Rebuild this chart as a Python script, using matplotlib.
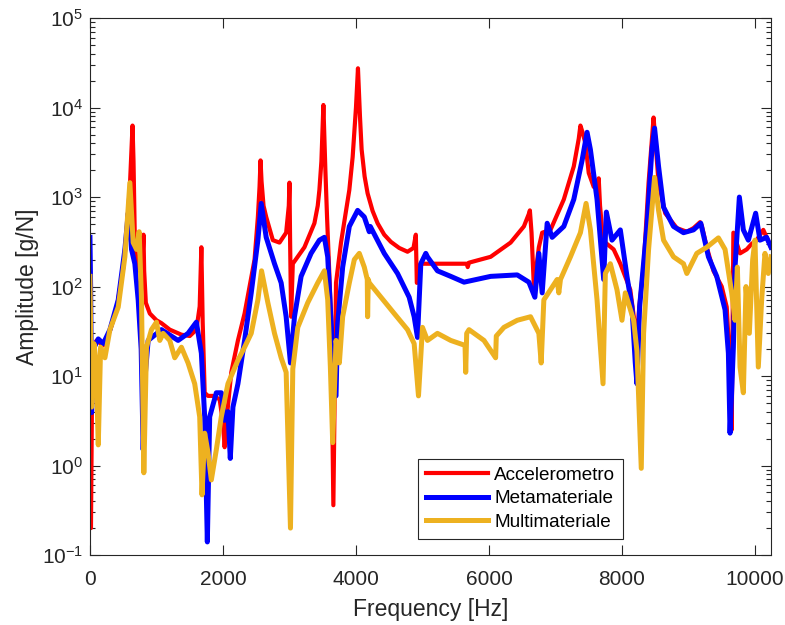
import numpy as np
import matplotlib
matplotlib.use('Agg')
import matplotlib.pyplot as plt
from matplotlib.ticker import FixedLocator, LogLocator, NullFormatter

# frequency response functions (Hz, g/N)
freq_acc = [0, 15, 30, 60, 100, 200, 300, 400, 500, 560, 600, 625, 640, 655, 675, 700, 750, 790,
            805, 815, 840, 900, 1000, 1075, 1200, 1375, 1500, 1600, 1650, 1675, 1695, 1725, 1775,
            1850, 1950, 2000, 2025, 2050, 2125, 2225, 2325, 2475, 2525, 2550, 2565, 2580, 2610,
            2650, 2750, 2850, 2950, 2990, 3000, 3010, 3025, 3050, 3225, 3375, 3425, 3450, 3480,
            3510, 3540, 3565, 3625, 3660, 3700, 3775, 3850, 3900, 3950, 3975, 4000, 4030, 4060,
            4085, 4130, 4175, 4250, 4325, 4425, 4525, 4650, 4775, 4865, 4900, 4915, 4975, 5100,
            5400, 5670, 5680, 5700, 6025, 6325, 6525, 6600, 6615, 6640, 6675, 6750, 6800, 6925,
            7125, 7275, 7350, 7375, 7400, 7450, 7500, 7575, 7640, 7650, 7670, 7700, 7750, 7875,
            7975, 8125, 8225, 8260, 8325, 8400, 8450, 8475, 8500, 8550, 8650, 8825, 8975, 9075,
            9175, 9200, 9275, 9375, 9500, 9575, 9625, 9650, 9675, 9775, 9875, 9950, 10025, 10125,
            10240]
amp_acc = [0.2, 0.2, 5, 22, 25, 22, 32, 55, 160, 500, 1300, 3500, 6300, 2500, 330, 180, 150, 200,
           380, 150, 66, 50, 42, 39, 33, 29, 28, 33, 60, 275, 40, 6.5, 6,
           6, 5.5, 3, 1.6, 3, 11, 25, 50, 200, 600, 1300, 2570, 1500, 800,
           600, 330, 310, 400, 800, 1450, 300, 46, 180, 275, 510, 800, 1200, 2500,
           10700, 2000, 600, 46, 0.36, 110, 310, 700, 1200, 2800, 5200, 10000, 27500, 8000,
           3400, 1700, 1100, 700, 510, 380, 316, 270, 245, 270, 380, 110, 180, 180,
           180, 180, 165, 185, 215, 310, 470, 650, 710, 400, 100, 275, 400, 430,
           940, 2200, 4500, 6300, 5500, 4000, 1860, 1300, 1500, 1620, 800, 450, 310, 260,
           180, 92, 25, 60, 165, 1450, 4500, 7750, 4500, 1450, 660, 450, 410, 450,
           525, 480, 275, 150, 100, 59, 12.6, 2.5, 400, 235, 260, 300, 330, 430,
           275]

freq_meta = [0, 10, 25, 50, 125, 200, 300, 425, 525, 575, 600, 625, 675, 725, 770, 800, 830, 875,
             1075, 1325, 1475, 1600, 1675, 1725, 1765, 1800, 1900, 1975, 2025, 2075, 2110, 2150,
             2225, 2325, 2425, 2525, 2575, 2650, 2775, 2875, 2950, 3015, 3075, 3175, 3325, 3450,
             3525, 3575, 3635, 3675, 3700, 3725, 3800, 3900, 4025, 4125, 4200, 4215, 4425, 4625,
             4800, 4875, 4925, 4975, 5050, 5075, 5225, 5425, 5625, 6025, 6425, 6600, 6690, 6750,
             6800, 6875, 6950, 7125, 7275, 7400, 7475, 7525, 7625, 7725, 7765, 7850, 7975, 8075,
             8150, 8200, 8225, 8265, 8375, 8450, 8490, 8550, 8625, 8775, 8925, 9075, 9185, 9300,
             9425, 9550, 9600, 9625, 9675, 9700, 9765, 9825, 9900, 10010, 10075, 10175, 10240]
amp_meta = [355, 100, 3.9, 20, 26, 23, 33, 71, 260, 660, 500, 260, 180, 71, 20, 1.5, 10, 25,
            33, 25, 30, 40, 18, 3.5, 0.14, 3.5, 6.5, 6.5, 3.2, 4, 1.2, 4.5,
            8.2, 25, 85, 330, 850, 355, 180, 110, 46, 14, 46, 130, 235, 330,
            355, 215, 30, 5.9, 6, 39, 165, 470, 710, 600, 410, 470, 235, 140,
            76, 46, 27, 180, 235, 215, 150, 130, 112, 130, 135, 112, 76, 235,
            85, 510, 355, 470, 940, 2570, 5300, 3400, 940, 120, 680, 330, 430, 130,
            59, 14, 8.2, 59, 470, 3400, 5900, 2200, 770, 470, 400, 430, 510, 215,
            130, 55, 18, 2.3, 21, 165, 1000, 430, 330, 660, 330, 355, 275]

freq_multi = [0, 25, 60, 90, 125, 160, 225, 300, 425, 525, 600, 650, 700, 740, 775, 810, 850, 925,
              1000, 1050, 1100, 1200, 1275, 1375, 1475, 1575, 1650, 1685, 1725, 1775, 1825, 1900,
              1975, 2075, 2225, 2325, 2425, 2525, 2580, 2675, 2775, 2875, 2950, 3015, 3050, 3125,
              3275, 3425, 3525, 3575, 3615, 3650, 3700, 3750, 3800, 3900, 3975, 4050, 4125, 4170,
              4175, 4185, 4200, 4375, 4575, 4775, 4875, 4940, 5000, 5075, 5225, 5425, 5640, 5650,
              5665, 5700, 5925, 6100, 6110, 6225, 6425, 6625, 6750, 6785, 6825, 7025, 7050, 7075,
              7225, 7375, 7460, 7525, 7625, 7715, 7750, 7825, 7925, 8000, 8050, 8175, 8225, 8290,
              8325, 8400, 8490, 8550, 8625, 8775, 8925, 8975, 9125, 9275, 9450, 9550, 9650, 9700,
              9735, 9775, 9825, 9865, 9915, 9965, 10000, 10050, 10100, 10150, 10200, 10240]
amp_multi = [130, 4.5, 23, 15, 1.7, 21, 16, 33, 59, 215, 1450, 310, 260, 410, 71, 0.83, 21, 33,
             40, 25, 30, 25, 16, 21, 14, 8.2, 3.5, 0.47, 2.3, 1.4, 0.69, 1.5,
             3.5, 8.2, 15, 21, 30, 71, 150, 66, 30, 16, 11, 0.2, 12, 35,
             66, 110, 150, 71, 12.6, 1.8, 25, 14, 46, 110, 200, 235, 165, 120,
             46, 120, 110, 76, 50, 33, 23, 6, 35, 25, 30, 25, 22, 11,
             30, 33, 25, 16, 28, 35, 42, 46, 30, 14, 71, 120, 85, 120,
             215, 400, 850, 430, 71, 8.2, 140, 180, 92, 42, 85, 42, 19, 0.93,
             30, 260, 1660, 710, 330, 215, 180, 140, 235, 275, 350, 260, 85, 42,
             165, 12.6, 6.5, 100, 30, 200, 330, 12.6, 71, 235, 140, 215]

labels = ['Accelerometro', 'Metamateriale', 'Multimateriale']
colors = [(1, 0, 0), (0, 0, 1), (0.929, 0.694, 0.125)]
y_decades = [1e-1, 1e0, 1e1, 1e2, 1e3, 1e4, 1e5]

plt.rcParams['font.family'] = ['Liberation Sans', 'DejaVu Sans']
plt.rcParams['mathtext.fontset'] = 'custom'
plt.rcParams['mathtext.rm'] = 'Liberation Sans'
plt.rcParams['mathtext.it'] = 'Liberation Sans:italic'
plt.rcParams['mathtext.bf'] = 'Liberation Sans:bold'

axcol = '0.15'
fig = plt.figure(figsize=(7.85, 6.25), dpi=100)
ax = fig.add_axes([0.1146, 0.112, 0.8675, 0.859])

ax.plot(freq_acc, amp_acc, color=colors[0], lw=3.0, label=labels[0])
ax.plot(freq_meta, amp_meta, color=colors[1], lw=3.6, label=labels[1])
ax.plot(freq_multi, amp_multi, color=colors[2], lw=3.6, label=labels[2])

ax.set_yscale('log')
ax.set_xlim(0, 10240)
ax.set_ylim(0.1, 1e5)
ax.set_xticks(np.arange(0, 10001, 2000))
ax.yaxis.set_major_locator(FixedLocator(y_decades))
minor = [m * d for d in y_decades[:-1] for m in range(2, 10)]
ax.yaxis.set_minor_locator(FixedLocator(minor))
ax.yaxis.set_minor_formatter(NullFormatter())
ax.set_yticklabels([r'$10^{%d}$' % e for e in range(-1, 6)])

ax.tick_params(which='both', direction='in', top=True, right=True, colors=axcol,
               labelsize=15, width=0.8)
ax.tick_params(which='major', length=7)
ax.tick_params(which='minor', length=3.5)
ax.tick_params(axis='x', pad=11)
ax.tick_params(axis='y', pad=5)
for s in ax.spines.values():
    s.set_color(axcol)
    s.set_linewidth(0.8)

ax.set_xlabel('Frequency [Hz]', fontsize=16.5, color=axcol, labelpad=6)
ax.set_ylabel('Amplitude [g/N]', fontsize=16.5, color=axcol, labelpad=2)

leg = ax.legend(loc='lower left', bbox_to_anchor=(0.482, 0.03), frameon=True, fancybox=False,
                edgecolor=axcol, framealpha=1, handlelength=3.3, borderaxespad=0, borderpad=0.42,
                labelspacing=0.34, handletextpad=0.3, fontsize=13.6)
leg.get_frame().set_linewidth(0.8)

fig.savefig('out.png', dpi=100)
